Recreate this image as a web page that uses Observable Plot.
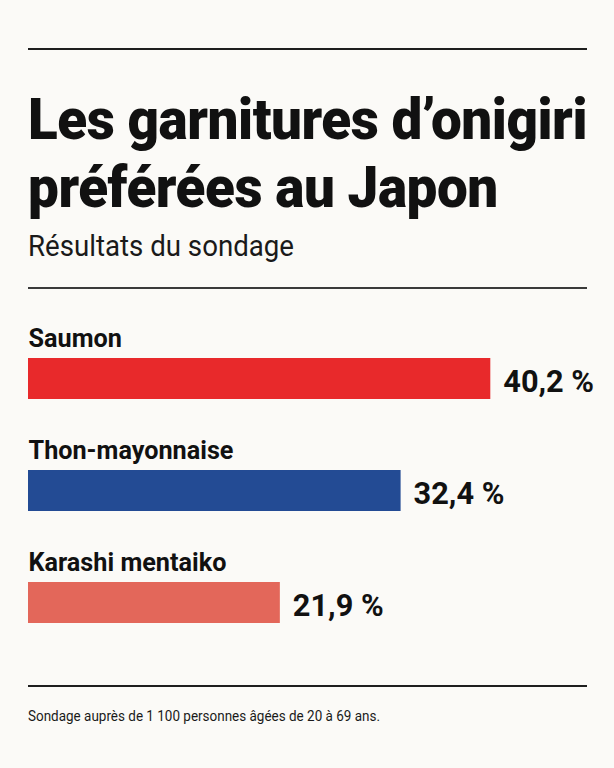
<!DOCTYPE html>
<html lang="fr">
<head>
<meta charset="utf-8">
<script src="https://cdn.jsdelivr.net/npm/d3@7"></script>
<script src="https://cdn.jsdelivr.net/npm/@observablehq/plot@0.6"></script>
<style>
  html, body { margin: 0; padding: 0; background: #fbfaf7; }
  body { width: 614px; height: 768px; position: relative; overflow: hidden; font-family: Roboto, "Noto Sans", "Liberation Sans", sans-serif; color: #111; }
  .rule { position: absolute; left: 28px; width: 559px; height: 2px; background: #1e1e1e; }
  #title { position: absolute; left: 28px; top: 85px; font-size: 58px; line-height: 68px; font-weight: 900; white-space: nowrap; transform-origin: 0 0; letter-spacing: -0.5px; }
  #subtitle { position: absolute; left: 28px; top: 231px; font-size: 30px; line-height: 30px; font-weight: 400; white-space: nowrap; transform-origin: 0 0; color: #1a1a1a; }
  #chart { position: absolute; left: 0; top: 290px; }
  #note { position: absolute; left: 28px; top: 708px; font-size: 14px; line-height: 16px; white-space: nowrap; transform-origin: 0 0; color: #1a1a1a; }
</style>
</head>
<body>
<div class="rule" style="top:48px"></div>
<div id="title"><span id="t1">Les garnitures d’onigiri</span><br><span id="t2">préférées au Japon</span></div>
<div id="subtitle"><span id="s1">Résultats du sondage</span></div>
<div class="rule" style="top:287px;background:#3a3a3a"></div>
<div id="chart"></div>
<div class="rule" style="top:685px"></div>
<div id="note"><span id="n1">Sondage auprès de 1 100 personnes âgées de 20 à 69 ans.</span></div>
<script>
// ---- data ----
const categories = ["Saumon", "Thon-mayonnaise", "Karashi mentaiko"];
const values = [40.2, 32.4, 21.9];
const colors = ["#e8292b", "#234b94", "#e3675a"];

const fr = d3.formatLocale({decimal: ",", thousands: "\u00a0", grouping: [3], currency: ["", " €"]});
const fmt = v => fr.format(".1f")(v) + " %";

const data = categories.map((name, i) => ({name, value: values[i], color: colors[i], label: fmt(values[i])}));

function fitX(container, measureEl, target) {
  const w = measureEl.getBoundingClientRect().width;
  container.style.transform = `scaleX(${target / w})`;
}

const chart = Plot.plot({
  width: 614,
  height: 380,
  margin: 0,
  style: {background: "transparent", overflow: "visible", fontFamily: "Roboto, 'Noto Sans', sans-serif"},
  x: {axis: null, domain: [0, 50], range: [28, 603]},
  y: {axis: null, domain: categories, range: [67.7, 334.2], paddingInner: 0.631, paddingOuter: 0, align: 0.5},
  color: {type: "identity"},
  marks: [
    Plot.barX(data, {x: "value", y: "name", fill: "color"}),
    Plot.text(data, {
      x: 0, y: "name", text: "name", textAnchor: "start", lineAnchor: "bottom",
      dy: -32.4, fontSize: 26, fontWeight: 700, fill: "#111", className: "cat"
    }),
    Plot.text(data, {
      x: "value", y: "name", text: "label", textAnchor: "start", lineAnchor: "bottom",
      dx: 12.5, dy: 13, fontSize: 32, fontWeight: 700, fill: "#111", className: "val"
    })
  ]
});
document.getElementById("chart").appendChild(chart);

// condense labels uniformly (style only)
function condense(selector, k) {
  chart.querySelectorAll(selector + " text").forEach(t => {
    const len = t.getComputedTextLength();
    t.setAttribute("textLength", (len * k).toFixed(2));
    t.setAttribute("lengthAdjust", "spacingAndGlyphs");
  });
}
condense(".cat", 0.97);
condense(".val", 0.96);

fitX(document.getElementById("title"), document.getElementById("t1"), 559);
fitX(document.getElementById("subtitle"), document.getElementById("s1"), 266);
fitX(document.getElementById("note"), document.getElementById("n1"), 352);
</script>
</body>
</html>
